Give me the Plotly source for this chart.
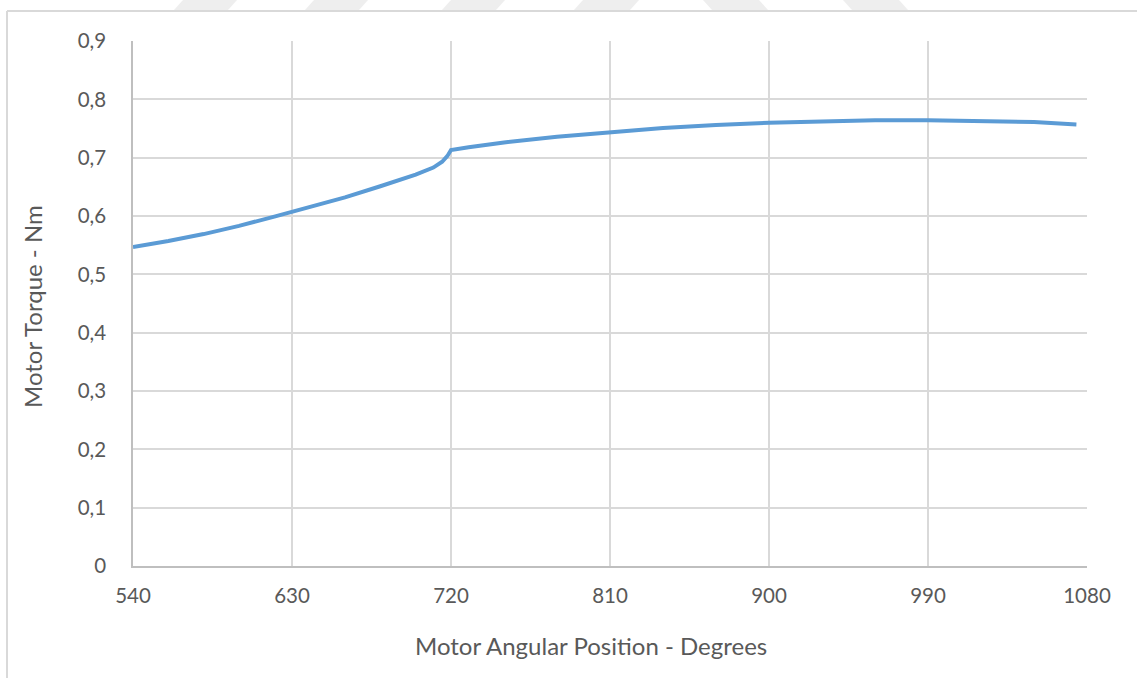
import plotly.graph_objects as go

# Motor angular position (degrees) and the corresponding motor torque (Nm)
angle_deg = [540, 560, 580, 600, 620, 630, 640, 660, 680, 700, 710, 715, 718,
             720, 730, 750, 780, 810, 840, 870, 900, 930, 960, 990, 1020,
             1050, 1074]
torque_nm = [0.547, 0.557, 0.569, 0.583, 0.599, 0.607, 0.615, 0.632, 0.651,
             0.671, 0.683, 0.693, 0.703, 0.713, 0.718, 0.726, 0.736, 0.744,
             0.751, 0.756, 0.760, 0.762, 0.764, 0.764, 0.763, 0.761, 0.757]

x_ticks = [540, 630, 720, 810, 900, 990, 1080]
y_ticks = [0, 0.1, 0.2, 0.3, 0.4, 0.5, 0.6, 0.7, 0.8, 0.9]
y_tick_text = ["0", "0,1", "0,2", "0,3", "0,4", "0,5", "0,6", "0,7", "0,8", "0,9"]

W, H = 1137, 678
L, R, T, B = 133, 50, 41, 112
PW, PH = W - L - R, H - T - B

def px(x):
    return (x - L) / PW

def py(y):
    return (H - B - y) / PH

TEXT = "#595959"
GRID = "#D9D9D9"
FONT = "Lato, 'Open Sans', sans-serif"

fig = go.Figure()
fig.add_trace(go.Scatter(
    x=angle_deg, y=torque_nm, mode="lines",
    line=dict(color="#5B9BD5", width=4),
    hoverinfo="x+y", showlegend=False,
))

shapes = []
# faint diagonal bands along the top edge of the page
bands = [(174, 228, 1), (305, 359, 1), (442, 496, 1), (574, 630, 1),
         (712, 768, -1), (852, 908, -1)]
for x0, x1, d in bands:
    s = 9 * d
    path = (f"M {px(x0)},{py(10)} L {px(x1)},{py(10)} "
            f"L {px(x1 + s)},{py(0)} L {px(x0 + s)},{py(0)} Z")
    shapes.append(dict(type="path", xref="paper", yref="paper", path=path,
                       fillcolor="#EEEEEE", line=dict(width=0), layer="below"))
# outer chart frame (top and left edges)
shapes.append(dict(type="line", xref="paper", yref="paper",
                   x0=px(7), x1=px(W + 2), y0=py(11), y1=py(11),
                   line=dict(color=GRID, width=2)))
shapes.append(dict(type="line", xref="paper", yref="paper",
                   x0=px(7), x1=px(7), y0=py(11), y1=py(H + 2),
                   line=dict(color=GRID, width=2)))

fig.update_layout(
    width=W, height=H,
    margin=dict(l=L, r=R, t=T, b=B, autoexpand=False),
    paper_bgcolor="white", plot_bgcolor="white",
    font=dict(family=FONT, size=20, color=TEXT),
    shapes=shapes,
    xaxis=dict(
        range=[540, 1080], tickvals=x_ticks, ticktext=[str(v) for v in x_ticks],
        showgrid=True, gridcolor=GRID, gridwidth=1.6,
        showline=True, linecolor="#BFBFBF", linewidth=1.6,
        ticks="", ticklabelstandoff=11, zeroline=False, mirror=False,
        tickfont=dict(size=20.5, color=TEXT),
    ),
    yaxis=dict(
        range=[0, 0.9], tickvals=y_ticks, ticktext=y_tick_text,
        showgrid=True, gridcolor=GRID, gridwidth=1.6,
        showline=True, linecolor="#BFBFBF", linewidth=1.6,
        ticks="", ticklabelstandoff=21, zeroline=False,
        tickfont=dict(size=20.5, color=TEXT),
    ),
    annotations=[
        dict(text="Motor Angular Position - Degrees", xref="paper", yref="paper",
             x=px(591), y=py(645), showarrow=False,
             font=dict(size=24, color=TEXT, family=FONT),
             xanchor="center", yanchor="middle"),
        dict(text="Motor Torque - Nm", xref="paper", yref="paper",
             x=px(33), y=py(307), showarrow=False, textangle=-90,
             font=dict(size=24, color=TEXT, family=FONT),
             xanchor="center", yanchor="middle"),
    ],
)

fig.write_html("out.html")
